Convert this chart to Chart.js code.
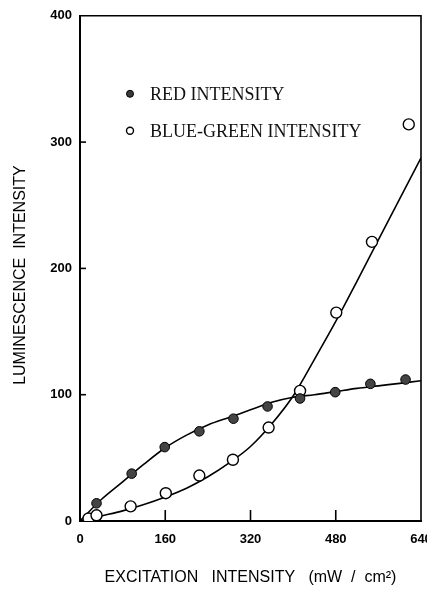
<!DOCTYPE html>
<html>
<head>
<meta charset="utf-8">
<script src="https://cdn.jsdelivr.net/npm/chart.js@4/dist/chart.umd.min.js"></script>
<style>
html,body{margin:0;padding:0;overflow:hidden;background:#fff;}
#wrap{width:450px;height:589px;}
</style>
</head>
<body>
<div id="wrap"><canvas id="c" width="450" height="589"></canvas></div>
<script>
// ---- data ----
const xTickLabels = ["0", "160", "320", "480", "640"];
const yTickLabels = ["0", "100", "200", "300", "400"];

const redX  = [31, 97, 159, 224, 288, 352, 413, 479, 545, 611];
const redY  = [14, 37.5, 58.5, 71, 81, 90.7, 97, 102, 108.6, 112];

const blueX = [16, 31, 95, 161, 224, 287, 354, 413, 481, 548, 617];
const blueY = [2, 4.5, 11.6, 22, 36, 48.5, 74, 103, 165, 221, 314];

const fitX    = [0, 40, 80, 120, 160, 200, 240, 280, 320, 360, 400, 440, 480, 520, 560, 600, 640];
const redFit  = [0, 17, 31, 45, 58, 68, 76, 82, 88, 94, 98, 100, 102.5, 105, 107, 109, 111];
const blueFit = [0, 4, 8, 13, 19, 26, 35, 46, 59, 77, 99, 128, 158, 190, 222.5, 255, 287.5];

const legendLabels = ["RED INTENSITY", "BLUE-GREEN INTENSITY"];
const xTitle = "EXCITATION   INTENSITY   (mW  /  cm\u00B2)";
const yTitle = "LUMINESCENCE  INTENSITY   ";

const pts = (xs, ys) => xs.map((x, i) => ({x: x, y: ys[i]}));

const frameAndTicks = {
  id: 'frameAndTicks',
  afterDatasetsDraw(chart) {
    const {ctx, chartArea: a, scales} = chart;
    ctx.save();
    ctx.strokeStyle = '#000';
    ctx.lineWidth = 1.6;
    ctx.beginPath();
    ctx.moveTo(a.left, a.top); ctx.lineTo(a.right, a.top); ctx.lineTo(a.right, a.bottom);
    ctx.stroke();
    // inward y ticks
    scales.y.ticks.forEach(t => {
      if (t.value <= 0 || t.value >= 400) return;
      const py = scales.y.getPixelForValue(t.value);
      ctx.beginPath(); ctx.moveTo(a.left, py); ctx.lineTo(a.left + 6, py); ctx.stroke();
    });
    // inward x ticks
    scales.x.ticks.forEach(t => {
      if (t.value <= 0 || t.value >= 640) return;
      const px = scales.x.getPixelForValue(t.value);
      ctx.beginPath(); ctx.moveTo(px, a.bottom); ctx.lineTo(px, a.bottom - 11); ctx.stroke();
    });
    // legend
    const lx = a.left + 50, ly1 = a.top + 78, ly2 = a.top + 115;
    ctx.fillStyle = '#3a3a3a'; ctx.strokeStyle = '#000'; ctx.lineWidth = 1;
    ctx.beginPath(); ctx.arc(lx, ly1, 3.5, 0, Math.PI * 2); ctx.fill(); ctx.stroke();
    ctx.fillStyle = '#fff'; ctx.lineWidth = 1.4;
    ctx.beginPath(); ctx.arc(lx, ly2, 3.5, 0, Math.PI * 2); ctx.fill(); ctx.stroke();
    ctx.fillStyle = '#111';
    ctx.font = '18px "Liberation Serif", "Times New Roman", serif';
    ctx.textBaseline = 'middle'; ctx.textAlign = 'left';
    ctx.fillText(legendLabels[0], lx + 20, ly1 + 1);
    ctx.fillText(legendLabels[1], lx + 20, ly2 + 1);
    ctx.restore();
  }
};

new Chart(document.getElementById('c'), {
  type: 'scatter',
  data: {
    datasets: [
      { label: 'red fit', data: pts(fitX, redFit), showLine: true, pointRadius: 0,
        borderColor: '#000', borderWidth: 1.6, cubicInterpolationMode: 'monotone', order: 2 },
      { label: 'blue fit', data: pts(fitX, blueFit), showLine: true, pointRadius: 0,
        borderColor: '#000', borderWidth: 1.6, cubicInterpolationMode: 'monotone', order: 2 },
      { label: legendLabels[0], data: pts(redX, redY), pointRadius: 4.8,
        pointBackgroundColor: '#444', pointBorderColor: '#000', pointBorderWidth: 1, order: 1 },
      { label: legendLabels[1], data: pts(blueX, blueY), pointRadius: 5.5,
        pointBackgroundColor: '#fff', pointBorderColor: '#000', pointBorderWidth: 1.4, order: 1 }
    ]
  },
  options: {
    responsive: false,
    animation: false,
    devicePixelRatio: 1,
    layout: { padding: { left: 0, right: 29, top: 14, bottom: 0 } },
    plugins: { legend: { display: false }, tooltip: { enabled: false } },
    scales: {
      x: {
        type: 'linear', min: 0, max: 640,
        afterFit(s) { s.height = 68; },
        afterBuildTicks(s) { s.ticks = xTickLabels.map(v => ({value: Number(v)})); },
        ticks: { padding: 11, color: '#000', maxRotation: 0,
          font: { family: '"Liberation Sans", Arial, sans-serif', size: 13, weight: 'bold' },
          callback: (v, i) => xTickLabels[i] },
        grid: { display: false, drawTicks: false },
        border: { display: true, color: '#000', width: 2 },
        title: { display: true, text: xTitle, color: '#000',
          font: { family: '"Liberation Sans", Arial, sans-serif', size: 16 },
          padding: { top: 0, bottom: 2 } }
      },
      y: {
        type: 'linear', min: 0, max: 400,
        afterFit(s) { s.width = 80; },
        afterBuildTicks(s) { s.ticks = yTickLabels.map(v => ({value: Number(v)})); },
        ticks: { padding: 8, color: '#000',
          font: { family: '"Liberation Sans", Arial, sans-serif', size: 13, weight: 'bold' },
          callback: (v, i) => yTickLabels[i] },
        grid: { display: false, drawTicks: false },
        border: { display: true, color: '#000', width: 2 },
        title: { display: true, text: yTitle, color: '#000',
          font: { family: '"Liberation Sans", Arial, sans-serif', size: 16 },
          padding: { top: 11, bottom: 0 } }
      }
    }
  },
  plugins: [frameAndTicks]
});
</script>
</body>
</html>
